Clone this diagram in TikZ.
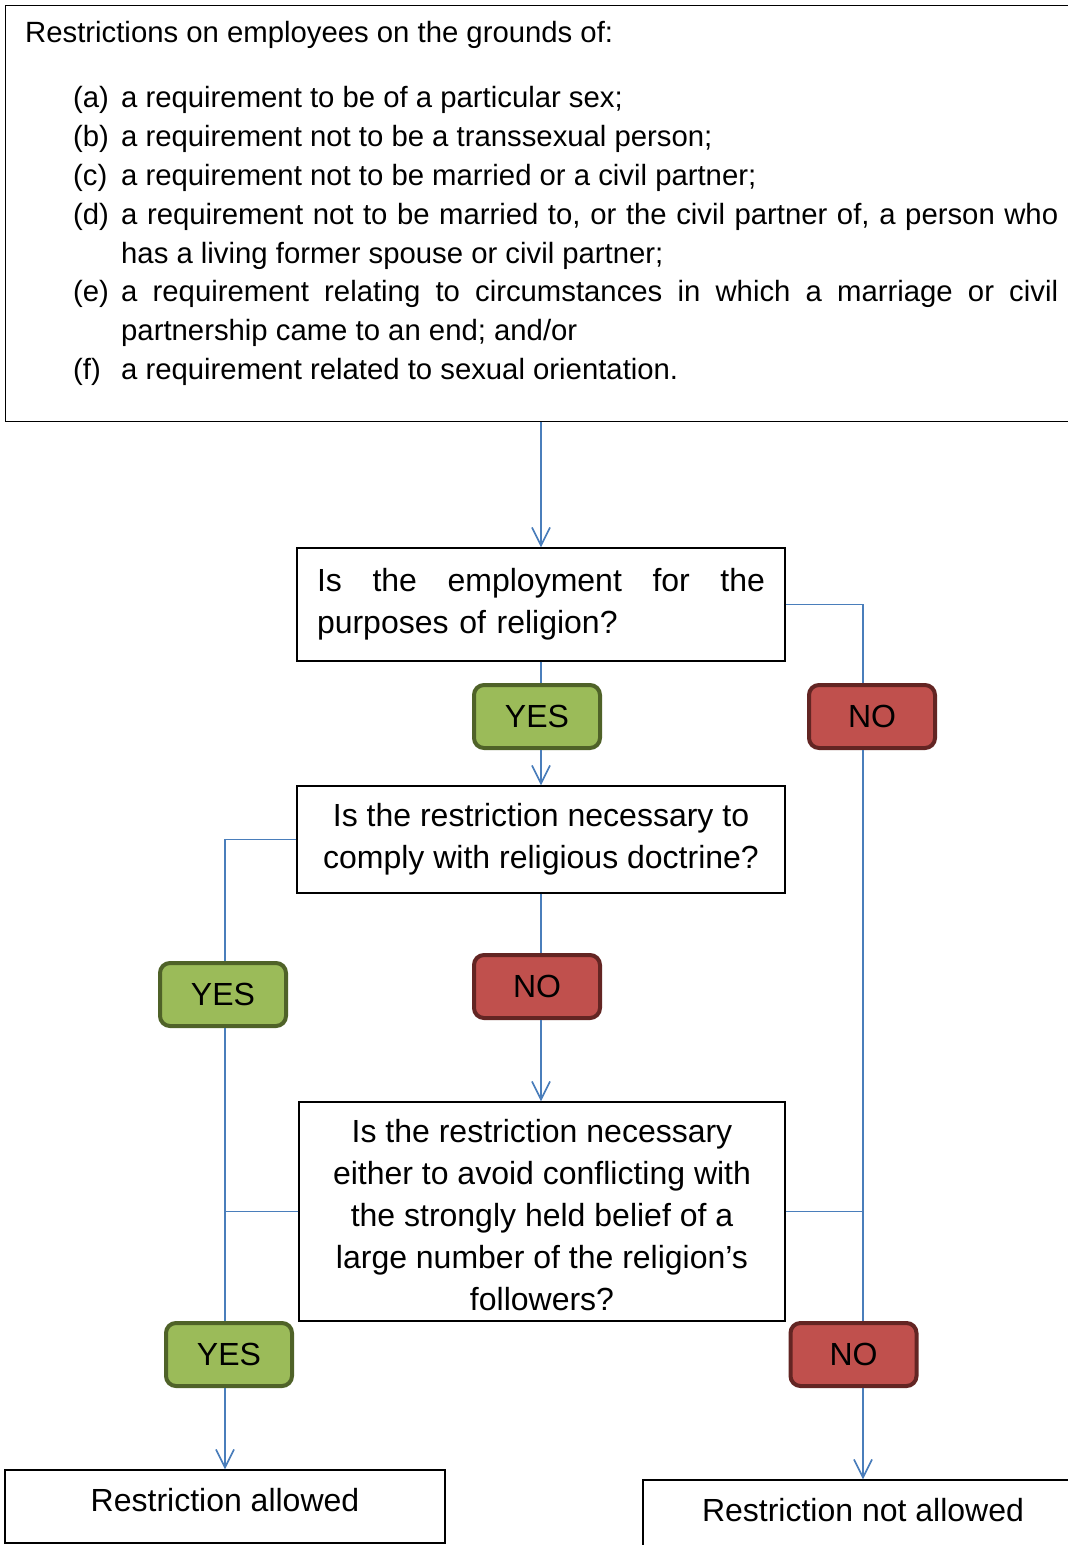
\documentclass[tikz,border=0pt]{standalone}
\usepackage{fontspec}
\setmainfont{Liberation Sans}
\usetikzlibrary{arrows.meta}
\definecolor{connc}{HTML}{4A7EBB}
\definecolor{yesfill}{HTML}{9BBB59}
\definecolor{yesline}{HTML}{4F6228}
\definecolor{nofill}{HTML}{C0504D}
\definecolor{noline}{HTML}{632523}
\begin{document}
\begin{tikzpicture}[x=1pt,y=-1pt,
  box/.style={draw=black, line width=1.3pt, inner sep=0pt},
  qfont/.style={font=\fontsize{32}{42}\selectfont},
  yesbox/.style={draw=yesline, fill=yesfill, line width=4pt, rounded corners=10pt,
    minimum width=126pt, minimum height=63pt, font=\fontsize{32}{38}\selectfont, inner sep=0pt},
  nobox/.style={yesbox, draw=noline, fill=nofill},
  link/.style={draw=connc, line width=1.7pt},
  arr/.style={link, -{Straight Barb[length=18pt,width=18pt]}},
  item/.style={anchor=base west, inner sep=0pt, font=\fontsize{29.3}{39}\selectfont},
  endbox/.style={box, font=\fontsize{32}{38}\selectfont, minimum width=440pt, minimum height=73pt,
    text height=23pt, text depth=14pt}
]
\useasboundingbox (0,0) rectangle (1068,1545);
\clip (0,0) rectangle (1068,1545);

% top box
\node[box, anchor=north west, minimum width=1070pt, minimum height=416pt] (top) at (5,5) {};
\node[item] (t0) at (25,42) {Restrictions on employees on the grounds of:};
\node[item] (la) at (73,107) {(a)};
\node[item] (ta) at (121,107) {a requirement to be of a particular sex;};
\node[item] (lb) at (73,146) {(b)};
\node[item] (tb) at (121,146) {a requirement not to be a transsexual person;};
\node[item] (lc) at (73,185) {(c)};
\node[item] (tc) at (121,185) {a requirement not to be married or a civil partner;};
\node[item] (ld) at (73,224) {(d)};
\node[item] (td1) at (121,224) {\makebox[937pt][s]{a requirement not to be married to, or the civil partner of, a person who}};
\node[item] (td2) at (121,263) {has a living former spouse or civil partner;};
\node[item] (le) at (73,301) {(e)};
\node[item] (te1) at (121,301) {\makebox[937pt][s]{a requirement relating to circumstances in which a marriage or civil}};
\node[item] (te2) at (121,340) {partnership came to an end; and/or};
\node[item] (lf) at (73,379) {(f)};
\node[item] (tf) at (121,379) {a requirement related to sexual orientation.};

% questions
\node[box, qfont, text width=448pt, inner xsep=20pt, minimum height=113pt, align=left] (q1) at (541,604.5)
  {\makebox[448pt]{Is\hfill the\hfill employment\hfill for\hfill the}\\purposes of religion?};
\node[box, qfont, align=center, minimum width=488pt, minimum height=107pt] (q2) at (541,839.5)
  {Is the restriction necessary to\\comply with religious doctrine?};
\node[box, qfont, align=center, minimum width=486pt, minimum height=219pt] (q3) at (542,1211.5)
  {\rule{0pt}{31pt}Is the restriction necessary\\either to avoid conflicting with\\the strongly held belief of a\\large number of the religion’s\\followers?};

% answers
\node[yesbox] (yes1) at (537,716.5) {YES};
\node[nobox] (no1) at (872,716.5) {NO};
\node[yesbox] (yes2) at (223,994.5) {YES};
\node[nobox] (no2) at (537,986.5) {NO};
\node[yesbox] (yes3) at (229,1354.5) {YES};
\node[nobox] (no3) at (853.5,1354.5) {NO};

% outcomes
\node[endbox] (ra) at (225,1506.5) {Restriction allowed};
\node[endbox] (na) at (863,1516.5) {Restriction not allowed};

\coordinate (rx) at (863,0);
\coordinate (lx) at (225,0);

% connectors
\draw[arr] (top.south -| q1.north) -- (q1.north);
\draw[link] (q1.south) -- (q1.south |- yes1.north);
\draw[arr] (yes1.south -| q1.south) -- (q2.north);
\draw[link] (q1.east) -| (rx |- no1.north);
\draw[link] (rx |- no1.south) -- (rx |- no3.north);
\draw[link] (q3.east) -- (rx |- q3.east);
\draw[arr] (rx |- no3.south) -- (rx |- na.north);

\draw[link] (q2.west) -| (lx |- yes2.north);
\draw[link] (lx |- yes2.south) -- (lx |- yes3.north);
\draw[link] (q3.west) -- (lx |- q3.west);
\draw[arr] (lx |- yes3.south) -- (lx |- ra.north);

\draw[link] (q2.south) -- (q2.south |- no2.north);
\draw[arr] (no2.south -| q2.south) -- (q3.north -| q2.south);
\end{tikzpicture}
\end{document}
